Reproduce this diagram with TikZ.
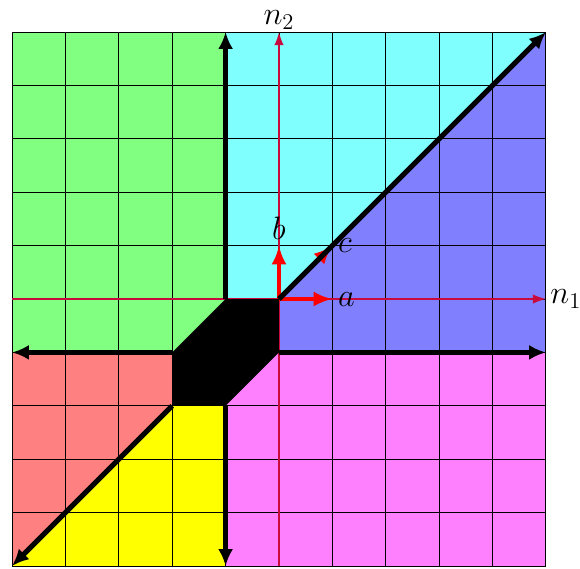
\documentclass[tikz,border=0pt]{standalone}
\usetikzlibrary{arrows.meta}
\definecolor{cgreen}{RGB}{128,255,128}
\definecolor{ccyan}{RGB}{128,255,255}
\definecolor{cblue}{RGB}{128,128,255}
\definecolor{cmag}{RGB}{255,128,255}
\definecolor{cyel}{RGB}{255,255,0}
\definecolor{cred}{RGB}{255,128,128}
\definecolor{caxis}{RGB}{200,10,60}
\begin{document}
\begin{tikzpicture}[
  lbl/.style={black,font=\fontsize{18.5}{22}\selectfont,inner sep=2pt},
  thickarrow/.style={line width=2.7pt,-{Latex[length=9pt,width=8pt]}},
  vecarrow/.style={red,line width=2pt,-{Latex[length=10pt,width=8pt]}},
  axis/.style={caxis,line width=0.8pt,-{Latex[length=7pt,width=5pt]}},
  gridline/.style={black,line width=0.5pt}]
\useasboundingbox (-5.225,-5.056) rectangle (5.637,5.6);
% regions
\fill[cgreen] (-5,5) -- (-1,5) -- (-1,0) -- (-2,-1) -- (-5,-1) -- cycle;
\fill[ccyan] (-1,5) -- (5,5) -- (0,0) -- (-1,0) -- cycle;
\fill[cblue] (5,5) -- (5,-1) -- (0,-1) -- (0,0) -- cycle;
\fill[cmag] (5,-1) -- (5,-5) -- (-1,-5) -- (-1,-2) -- (0,-1) -- cycle;
\fill[cyel] (-1,-5) -- (-5,-5) -- (-2,-2) -- (-1,-2) -- cycle;
\fill[cred] (-5,-5) -- (-5,-1) -- (-2,-1) -- (-2,-2) -- cycle;
\draw[gridline] (-5,-5) grid (5,5);
% axes
\coordinate (o) at (0,0);
\coordinate (xl) at (-5,0);
\coordinate (xr) at (5,0);
\coordinate (yb) at (0,-5);
\coordinate (yt) at (0,5);
\draw[axis] (xl) -- (xr) node[lbl,right] (n1) {$n_1$};
\draw[axis] (yb) -- (yt) node[lbl,above,inner sep=1pt] (n2) {$n_2$};
% vectors
\coordinate (pa) at (1,0);
\coordinate (pb) at (0,1);
\coordinate (pc) at (1,1);
\draw[vecarrow] (o) -- (pa) node[lbl,right] (la) {$a$};
\draw[vecarrow] (o) -- (pb) node[lbl,above] (lb) {$b$};
\draw[vecarrow] (o) -- (pc) node[lbl,right] (lc) {$c$};
% black region
\fill[black] (-1,0) -- (0,0) -- (0,-1) -- (-1,-2) -- (-2,-2) -- (-2,-1) -- cycle;
% thick arrows
\coordinate (h1) at (-1,0);
\coordinate (h2) at (0,-1);
\coordinate (h3) at (-1,-2);
\coordinate (h4) at (-2,-1);
\coordinate (h5) at (-2,-2);
\coordinate (e1) at (-1,5);
\coordinate (e2) at (5,-1);
\coordinate (e3) at (-1,-5);
\coordinate (e4) at (-5,-1);
\coordinate (e5) at (-5,-5);
\coordinate (e0) at (5,5);
\draw[thickarrow] (h1) -- (e1);
\draw[thickarrow] (h3) -- (e3);
\draw[thickarrow] (h2) -- (e2);
\draw[thickarrow] (h4) -- (e4);
\draw[thickarrow] (o) -- (e0);
\draw[thickarrow] (h5) -- (e5);
\end{tikzpicture}
\end{document}
